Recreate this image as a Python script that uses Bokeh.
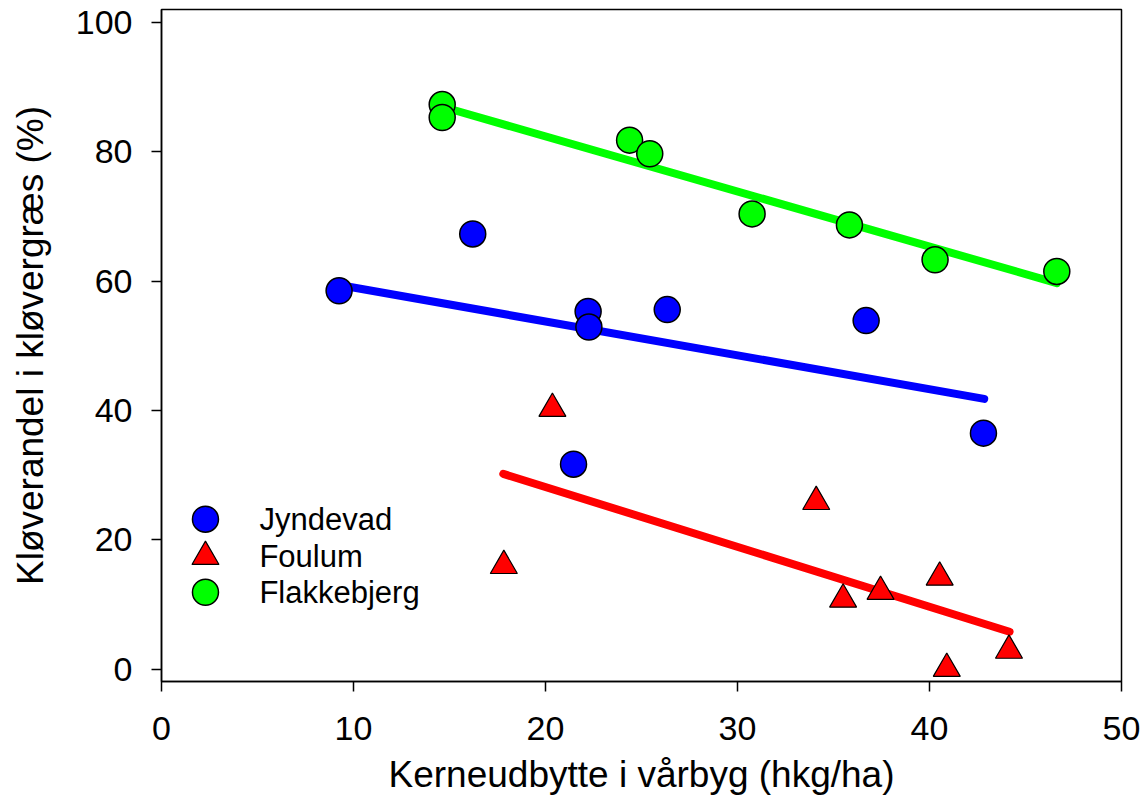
from bokeh.plotting import figure
from bokeh.models import Range1d, FixedTicker
from bokeh.embed import file_html
from bokeh.resources import INLINE
from bokeh.core.properties import value

# ---------------- data ----------------
sites = ["Jyndevad", "Foulum", "Flakkebjerg"]

jyndevad_x = [9.25, 16.21, 22.22, 22.26, 26.34, 36.70, 42.81, 21.46]
jyndevad_y = [58.5, 67.3, 55.3, 52.9, 55.6, 53.9, 36.5, 31.7]

foulum_x = [20.36, 17.83, 34.10, 35.50, 37.45, 40.53, 40.90, 44.14]
foulum_y = [40.3, 16.0, 25.9, 10.8, 12.0, 14.2, 0.1, 2.9]

flakkebjerg_x = [14.62, 14.62, 24.38, 25.43, 30.76, 35.83, 40.29, 46.63]
flakkebjerg_y = [87.3, 85.3, 81.8, 79.7, 70.4, 68.7, 63.3, 61.5]

# regression lines (end points)
jyndevad_fit_x = [9.25, 42.85]
jyndevad_fit_y = [59.4, 41.8]
foulum_fit_x = [17.8, 44.17]
foulum_fit_y = [30.2, 5.8]
flakkebjerg_fit_x = [14.62, 46.63]
flakkebjerg_fit_y = [86.96, 59.7]

x_ticks = [0, 10, 20, 30, 40, 50]
y_ticks = [0, 20, 40, 60, 80, 100]

x_title = "Kerneudbytte i vårbyg (hkg/ha)"
y_title = "Kløverandel i kløvergræs (%)"

# ---------------- styling ----------------
FONT = "Liberation Sans"
BLUE = "#0000ff"
RED = "#ff0000"
GREEN = "#00ff00"

p = figure(frame_width=960, frame_height=672,
           x_range=Range1d(0, 50), y_range=Range1d(-1.9, 102.0),
           output_backend="svg", toolbar_location=None,
           min_border_left=161, min_border_right=20,
           min_border_top=9, min_border_bottom=100,
           background_fill_color="white", border_fill_color="white")

p.grid.visible = False
p.outline_line_color = "black"
p.outline_line_width = 1.5

p.xaxis.ticker = FixedTicker(ticks=x_ticks)
p.yaxis.ticker = FixedTicker(ticks=y_ticks)
for ax in (p.xaxis[0], p.yaxis[0]):
    ax.axis_line_color = "black"
    ax.axis_line_width = 1.5
    ax.major_tick_line_color = "black"
    ax.major_tick_line_width = 1.5
    ax.major_tick_in = 0
    ax.major_tick_out = 10
    ax.minor_tick_line_color = None
    ax.major_label_text_font = FONT
    ax.major_label_text_font_size = "34px"
    ax.major_label_text_color = "black"
    ax.axis_label_text_font = FONT
    ax.axis_label_text_font_style = "normal"
    ax.axis_label_text_color = "black"

p.xaxis.axis_label = x_title
p.yaxis.axis_label = y_title
p.xaxis.axis_label_text_font_size = "37px"
p.yaxis.axis_label_text_font_size = "37px"
p.xaxis.major_label_standoff = 25
p.xaxis.axis_label_standoff = 11
p.yaxis.major_label_standoff = 19
p.yaxis.axis_label_standoff = 22

# regression lines
p.line(jyndevad_fit_x, jyndevad_fit_y, line_color=BLUE, line_width=8, line_cap="round")
p.line(foulum_fit_x, foulum_fit_y, line_color=RED, line_width=8, line_cap="round")
p.line(flakkebjerg_fit_x, flakkebjerg_fit_y, line_color=GREEN, line_width=8, line_cap="round")

# points
p.scatter(jyndevad_x, jyndevad_y, marker="circle", size=26,
          fill_color=BLUE, line_color="black", line_width=1.5)
p.scatter(foulum_x, foulum_y, marker="triangle", size=27,
          fill_color=RED, line_color="black", line_width=1.2)
p.scatter(flakkebjerg_x, flakkebjerg_y, marker="circle", size=26,
          fill_color=GREEN, line_color="black", line_width=1.5)

# legend (drawn by hand so that its keys have the same size as the points)
leg_key_x = 2.29
leg_text_x = 5.10
leg_rows_y = [23.2, 17.4, 11.9]
p.scatter([leg_key_x], [leg_rows_y[0]], marker="circle", size=26,
          fill_color=BLUE, line_color="black", line_width=1.5)
p.scatter([leg_key_x], [leg_rows_y[1]], marker="triangle", size=27,
          fill_color=RED, line_color="black", line_width=1.2)
p.scatter([leg_key_x], [leg_rows_y[2]], marker="circle", size=26,
          fill_color=GREEN, line_color="black", line_width=1.5)
p.text(x=[leg_text_x] * 3, y=leg_rows_y, text=sites,
       text_font=value(FONT), text_font_size="31px",
       text_baseline="middle", text_align="left", text_color="black")

open("out.html", "w").write(file_html(p, INLINE))
